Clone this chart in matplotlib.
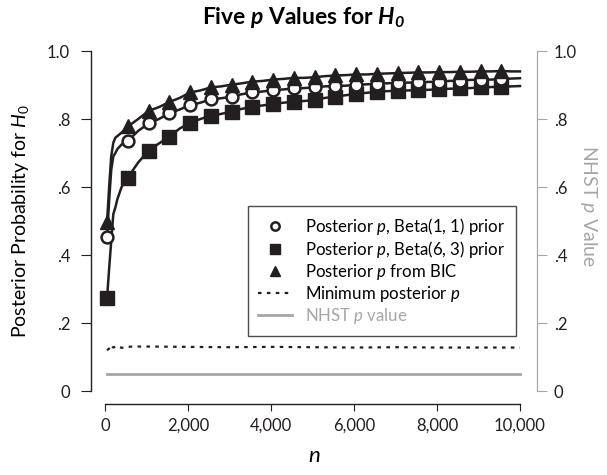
import matplotlib

matplotlib.use("Agg")
import matplotlib.pyplot as plt
from matplotlib.lines import Line2D

n_line = [50, 100, 150, 200, 250, 300, 400, 550, 800, 1050, 1300, 1550, 1800, 2050,
          2300, 2550, 2800, 3050, 3300, 3550, 3800, 4050, 4300, 4550, 4800, 5050,
          5300, 5550, 5800, 6050, 6300, 6550, 6800, 7050, 7300, 7550, 7800, 8050,
          8300, 8550, 8800, 9050, 9300, 9550, 9800, 10000]
# sample sizes that carry a marker
n_marks = [50, 550, 1050, 1550, 2050, 2550, 3050, 3550, 4050, 4550, 5050, 5550,
           6050, 6550, 7050, 7550, 8050, 8550, 9050, 9550]

post_beta11 = [0.454, 0.56, 0.65, 0.69, 0.70, 0.712, 0.725, 0.736, 0.765, 0.787, 0.800,
               0.817, 0.828, 0.841, 0.848, 0.858, 0.861, 0.866, 0.873, 0.878, 0.881,
               0.885, 0.887, 0.890, 0.891, 0.893, 0.896, 0.897, 0.898, 0.900, 0.902,
               0.904, 0.905, 0.907, 0.907, 0.908, 0.909, 0.910, 0.912, 0.913, 0.915,
               0.916, 0.916, 0.917, 0.919, 0.920]
post_beta63 = [0.273, 0.36, 0.44, 0.52, 0.54, 0.565, 0.600, 0.628, 0.672, 0.707, 0.728,
               0.748, 0.772, 0.789, 0.800, 0.810, 0.815, 0.822, 0.830, 0.836, 0.840,
               0.844, 0.848, 0.851, 0.853, 0.856, 0.862, 0.866, 0.870, 0.874, 0.877,
               0.880, 0.882, 0.883, 0.884, 0.885, 0.886, 0.887, 0.889, 0.890, 0.891,
               0.893, 0.894, 0.895, 0.896, 0.897]
post_bic = [0.498, 0.60, 0.69, 0.73, 0.745, 0.750, 0.760, 0.778, 0.800, 0.824, 0.835,
            0.850, 0.862, 0.878, 0.884, 0.893, 0.896, 0.901, 0.905, 0.910, 0.912,
            0.916, 0.918, 0.921, 0.921, 0.923, 0.926, 0.928, 0.929, 0.931, 0.931,
            0.933, 0.934, 0.935, 0.936, 0.937, 0.937, 0.938, 0.938, 0.939, 0.939,
            0.940, 0.940, 0.941, 0.940, 0.940]

n_min = [50, 100, 150, 200, 300, 400, 500, 700, 1000, 2000, 3000, 4000, 5000, 6000,
         7000, 8000, 9000, 10000]
min_post = [0.120, 0.125, 0.136, 0.128, 0.133, 0.127, 0.130, 0.131, 0.131, 0.130,
            0.129, 0.130, 0.129, 0.128, 0.129, 0.128, 0.128, 0.128]

n_nhst = [50, 10000]
nhst_p = [0.05, 0.05]

x_ticks = [0, 2000, 4000, 6000, 8000, 10000]
x_ticklabels = ["0", "2,000", "4,000", "6,000", "8,000", "10,000"]
y_ticks = [0, 0.2, 0.4, 0.6, 0.8, 1.0]
y_ticklabels = ["0", ".2", ".4", ".6", ".8", "1.0"]

GRAY = "#a6a6a6"
INK = "#231f20"

plt.rcParams["font.family"] = ["Lato", "DejaVu Sans"]
plt.rcParams["mathtext.fontset"] = "custom"
plt.rcParams["mathtext.rm"] = "Lato"
plt.rcParams["mathtext.it"] = "Lato:italic"
plt.rcParams["mathtext.bf"] = "Lato:bold:italic"

fig = plt.figure(figsize=(6.07, 4.75), dpi=100)
ax = fig.add_axes([91 / 607, 71 / 475, 446 / 607, 353 / 475])
ax.set_xlim(-337, 10410)
ax.set_ylim(-0.038, 1.0)

marks = [n_line.index(n) for n in n_marks]
line_kw = dict(color=INK, lw=1.8, markevery=marks, clip_on=False)
ax.plot(n_line, post_beta63, marker="s", ms=9.5, mfc=INK, mec=INK, zorder=3, **line_kw)
ax.plot(n_line, post_beta11, marker="o", ms=8.5, mfc="white", mec=INK, mew=1.8,
        zorder=4, **line_kw)
ax.plot(n_line, post_bic, marker="^", ms=10.5, mfc=INK, mec=INK, zorder=5, **line_kw)
ax.plot(n_min, min_post, color=INK, lw=1.6, ls=(0, (1.6, 2.4)))
ax.plot(n_nhst, nhst_p, color=GRAY, lw=2.0)

ax.spines["top"].set_visible(False)
ax.spines["left"].set_bounds(0, 1)
ax.spines["bottom"].set_bounds(0, 10000)
ax.spines["right"].set_bounds(0, 1)
ax.spines["right"].set_color(GRAY)
for side in ["left", "bottom"]:
    ax.spines[side].set_color(INK)
    ax.spines[side].set_linewidth(1.0)

ax.set_xticks(x_ticks)
ax.set_xticklabels(x_ticklabels)
ax.set_yticks(y_ticks)
ax.set_yticklabels(y_ticklabels)
ax.tick_params(axis="both", direction="out", labelsize=12, color=INK, labelcolor=INK)
ax.tick_params(axis="y", length=7, pad=8)
ax.tick_params(axis="x", length=5, pad=5)

ax2 = ax.twinx()
ax2.set_ylim(ax.get_ylim())
ax2.set_yticks(y_ticks)
ax2.set_yticklabels(y_ticklabels)
ax2.tick_params(axis="y", direction="out", length=7, pad=5, color=GRAY,
                labelcolor=INK, labelsize=12)
for side in ["top", "left", "bottom"]:
    ax2.spines[side].set_visible(False)
ax2.spines["right"].set_bounds(0, 1)
ax2.spines["right"].set_color(GRAY)
ax2.set_ylabel(r"NHST $p$ Value", color=GRAY, fontsize=14, rotation=-90)
ax2.yaxis.set_label_coords(1.14, 0.56)

ax.set_xlabel(r"$n$", fontsize=16)
ax.xaxis.set_label_coords(0.5, -0.118)
ax.set_ylabel(r"Posterior Probability for $H_0$", fontsize=14)
ax.yaxis.set_label_coords(-0.135, 0.52)
fig.text(0.5, 1 - 18 / 475, r"Five $\mathbf{p}$ Values for $\mathbf{H_0}$",
         ha="center", va="center", fontsize=16.5, fontweight="bold")

handles = [
    Line2D([], [], ls="none", marker="o", ms=6, mfc="white", mec=INK, mew=1.8),
    Line2D([], [], ls="none", marker="s", ms=7, mfc=INK, mec=INK),
    Line2D([], [], ls="none", marker="^", ms=7.5, mfc=INK, mec=INK),
    Line2D([], [], color=INK, lw=1.6, ls=(0, (1.6, 2.4))),
    Line2D([], [], color=GRAY, lw=2.0),
]
labels = [
    r"Posterior $p$, Beta(1, 1) prior",
    r"Posterior $p$, Beta(6, 3) prior",
    r"Posterior $p$ from BIC",
    r"Minimum posterior $p$",
    r"NHST $p$ value",
]
leg = ax.legend(handles, labels, loc="upper left", bbox_to_anchor=(0.352, 0.561),
                borderaxespad=0, frameon=True, fancybox=False, edgecolor=INK,
                fontsize=12.1, handlelength=2.0, handletextpad=0.8,
                labelspacing=0.12, borderpad=0.6)
leg.get_frame().set_linewidth(1.0)
leg.get_texts()[4].set_color(GRAY)
leg.set_zorder(10)

fig.savefig("out.png", dpi=100)
